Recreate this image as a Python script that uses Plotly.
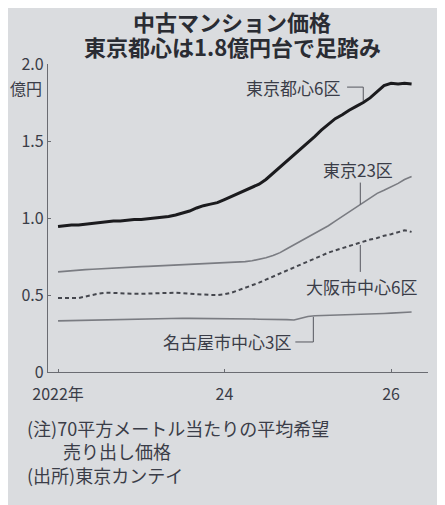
import pandas as pd
import plotly.graph_objects as go

months = pd.date_range("2022-01-01", periods=52, freq="MS")

tokyo_center6 = [0.945, 0.95, 0.955, 0.955, 0.96, 0.965, 0.97, 0.975, 0.98, 0.98,
                 0.985, 0.99, 0.99, 0.995, 1.0, 1.005, 1.01, 1.02, 1.03, 1.045,
                 1.065, 1.08, 1.09, 1.10, 1.12, 1.14, 1.16, 1.18, 1.20, 1.22,
                 1.25, 1.29, 1.335, 1.37, 1.41, 1.45, 1.49, 1.53, 1.57, 1.61,
                 1.645, 1.67, 1.70, 1.725, 1.75, 1.78, 1.82, 1.86, 1.875, 1.87,
                 1.875, 1.87]
tokyo_23 = [0.65, 0.655, 0.66, 0.662, 0.665, 0.667, 0.67, 0.672, 0.675, 0.677,
            0.68, 0.682, 0.684, 0.686, 0.688, 0.69, 0.692, 0.694, 0.696, 0.697,
            0.698, 0.70, 0.702, 0.705, 0.708, 0.711, 0.714, 0.717, 0.722, 0.73,
            0.742, 0.756, 0.775, 0.80, 0.825, 0.85, 0.875, 0.90, 0.925, 0.95,
            0.98, 1.01, 1.04, 1.07, 1.10, 1.13, 1.16, 1.18, 1.20, 1.225,
            1.25, 1.27]
osaka_center6 = [0.48, 0.48, 0.478, 0.48, 0.49, 0.50, 0.51, 0.515, 0.512, 0.51,
                 0.508, 0.508, 0.508, 0.51, 0.512, 0.514, 0.515, 0.515, 0.512, 0.508,
                 0.505, 0.502, 0.50, 0.50, 0.505, 0.515, 0.53, 0.545, 0.56, 0.58,
                 0.60, 0.62, 0.64, 0.66, 0.68, 0.70, 0.72, 0.74, 0.755, 0.775,
                 0.79, 0.805, 0.82, 0.835, 0.85, 0.86, 0.87, 0.885, 0.895, 0.91,
                 0.92, 0.91]
nagoya_center3 = [0.332, 0.333, 0.334, 0.335, 0.336, 0.337, 0.338, 0.339, 0.34, 0.341,
                  0.342, 0.343, 0.344, 0.345, 0.347, 0.35, 0.35, 0.349, 0.349, 0.348,
                  0.348, 0.347, 0.347, 0.346, 0.346, 0.345, 0.345, 0.344, 0.344, 0.343,
                  0.343, 0.342, 0.341, 0.34, 0.338, 0.35, 0.36, 0.365, 0.366, 0.367,
                  0.368, 0.369, 0.37, 0.372, 0.374, 0.376, 0.378, 0.38, 0.382, 0.385,
                  0.388, 0.39]

y_ticks = [0, 0.5, 1.0, 1.5, 2.0]
y_ticklabels = ["0", "0.5", "1.0", "1.5", "2.0"]
x_ticks = ["2022-01-01", "2024-01-01", "2026-01-01"]
x_ticklabels = ["2022年", "24", "26"]

BG = "#dadcdf"
TXT = "#3a3d48"
FONT = "Noto Sans CJK JP"
NUMFONT = "Liberation Sans Narrow, " + FONT

fig = go.Figure()
fig.add_trace(go.Scatter(x=months, y=nagoya_center3, mode="lines",
                         line=dict(color="#7a7c82", width=1.6), hoverinfo="skip"))
fig.add_trace(go.Scatter(x=months, y=osaka_center6, mode="lines",
                         line=dict(color="#45474e", width=2, dash="4px,3px"), hoverinfo="skip"))
fig.add_trace(go.Scatter(x=months, y=tokyo_23, mode="lines",
                         line=dict(color="#7a7c82", width=1.6), hoverinfo="skip"))
fig.add_trace(go.Scatter(x=months, y=tokyo_center6, mode="lines",
                         line=dict(color="#1b1b1e", width=3), hoverinfo="skip"))

fig.update_layout(
    width=437, height=497,
    paper_bgcolor=BG, plot_bgcolor=BG,
    showlegend=False,
    margin=dict(l=40, r=17, t=56, b=133),
    font=dict(family=FONT, color=TXT, size=14),
    xaxis=dict(range=["2021-11-18", "2026-06-12"], tickvals=x_ticks, ticktext=x_ticklabels,
               showgrid=False, zeroline=False, showline=True, linecolor="#6a6c72", linewidth=1.2,
               ticks="inside", ticklen=3, tickcolor="#6a6c72", ticklabelstandoff=8,
               tickfont=dict(size=16, family=NUMFONT, color=TXT)),
    yaxis=dict(range=[0, 2.0], tickvals=y_ticks, ticktext=y_ticklabels,
               showgrid=False, zeroline=False, showline=True, linecolor="#6a6c72", linewidth=1.2,
               ticks="inside", ticklen=3, tickcolor="#6a6c72",
               tickfont=dict(size=16, family=NUMFONT, color=TXT)),
)

ann = []
ann.append(dict(xref="paper", yref="paper", x=0.5, y=1, xanchor="center", yanchor="middle",
                xshift=-6, yshift=43, text="<b>中古マンション価格</b>", showarrow=False,
                font=dict(size=22, color="#2a2c33")))
ann.append(dict(xref="paper", yref="paper", x=0.5, y=1, xanchor="center", yanchor="middle",
                xshift=-6, yshift=18, text="<b>東京都心は1.8億円台で足踏み</b>", showarrow=False,
                font=dict(size=22, color="#2a2c33")))
ann.append(dict(xref="paper", yref="paper", x=0, y=1, xanchor="right", yanchor="middle",
                xshift=-4, yshift=-24, text="億円", showarrow=False, font=dict(size=16, color=TXT)))
# series labels
LBL = dict(size=17, color=TXT)
ann.append(dict(xref="x", yref="y", x="2025-06-01", y=1.845, xanchor="right", yanchor="middle",
                text="東京都心6区", showarrow=False, font=LBL))
ann.append(dict(xref="x", yref="y", x="2025-08-10", y=1.315, xanchor="center", yanchor="middle",
                text="東京23区", showarrow=False, font=LBL))
ann.append(dict(xref="x", yref="y", x="2025-08-25", y=0.553, xanchor="center", yanchor="middle",
                text="大阪市中心6区", showarrow=False, font=LBL))
ann.append(dict(xref="x", yref="y", x="2024-10-28", y=0.195, xanchor="right", yanchor="middle",
                text="名古屋市中心3区", showarrow=False, font=LBL))
# notes
ann.append(dict(xref="paper", yref="paper", x=0, y=0, xanchor="left", yanchor="top",
                xshift=-23, yshift=-41, align="left",
                text="(注)70平方メートル当たりの平均希望<br>　　売り出し価格<br>(出所)東京カンテイ",
                showarrow=False, font=dict(size=18, color=TXT)))
fig.update_layout(annotations=ann)

# leader lines
lc = dict(color="#55575e", width=1)
fig.add_shape(type="line", xref="x", yref="y", x0="2025-06-22", y0=1.85, x1="2025-09-01", y1=1.85, line=lc)
fig.add_shape(type="line", xref="x", yref="y", x0="2025-09-01", y0=1.85, x1="2025-09-01", y1=1.76, line=lc)
fig.add_shape(type="line", xref="x", yref="y", x0="2025-08-19", y0=1.23, x1="2025-08-19", y1=1.088, line=lc)
fig.add_shape(type="line", xref="x", yref="y", x0="2025-08-19", y0=0.825, x1="2025-08-19", y1=0.65, line=lc)
fig.add_shape(type="line", xref="x", yref="y", x0="2024-11-07", y0=0.195, x1="2025-01-25", y1=0.195, line=lc)
fig.add_shape(type="line", xref="x", yref="y", x0="2025-01-25", y0=0.195, x1="2025-01-25", y1=0.358, line=lc)

fig.write_html("out.html")
